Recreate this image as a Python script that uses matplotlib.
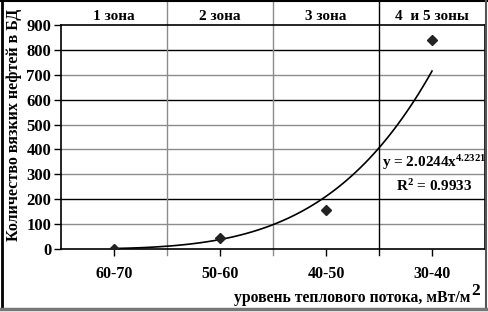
import numpy as np
import matplotlib
matplotlib.use("Agg")
import matplotlib.pyplot as plt
import matplotlib.transforms as mtrans
from matplotlib.lines import Line2D

plt.rcParams['font.family'] = ['Liberation Serif', 'DejaVu Serif']
plt.rcParams['font.weight'] = 'bold'
plt.rcParams['axes.labelweight'] = 'bold'
plt.rcParams['mathtext.fontset'] = 'custom'
plt.rcParams['mathtext.rm'] = 'Liberation Serif:bold'
plt.rcParams['mathtext.it'] = 'Liberation Serif:bold'
plt.rcParams['mathtext.bf'] = 'Liberation Serif:bold'

# data
categories = ['60-70', '50-60', '40-50', '30-40']
counts = [2, 45, 158, 838]
zones = ['1 зона', '2 зона', '3 зона', '4  и 5 зоны']
# power trendline as printed on the chart
trend_a = 2.0244
trend_b = 4.2321
r2 = 0.9933

fig = plt.figure(figsize=(4.88, 3.12), dpi=100)
ax = fig.add_axes([61 / 488, 63 / 312, 424 / 488, 224 / 312])

x = np.arange(1, len(categories) + 1)

# horizontal grid, some lines darker like in the source
for v in range(100, 900, 100):
    col = 'black' if v in (200, 600, 800) else '#8c8c8c'
    ax.axhline(v, color=col, lw=1.0, zorder=1)

# zone borders run from the top of the header row to below the axis
for b in x[:-1] + 0.5:
    ax.axvline(b, ymin=-0.025, ymax=1 + 25 / 224, color='#8c8c8c' if b < 3.5 else 'black',
               lw=1.0, clip_on=False, zorder=1)

xt = np.linspace(1, 4, 100)
ax.plot(xt, trend_a * xt ** trend_b, color='black', lw=1.2, zorder=3)
ax.plot(x, counts, 'D', color='#222222', ms=5, zorder=4)

ax.set_xlim(0.5, 4.5)
ax.set_ylim(0, 900)
ax.set_yticks(range(0, 1000, 100))
ax.set_xticks(x)
ax.set_xticklabels(categories)
ax.tick_params(axis='y', labelsize=12, length=5, width=1, pad=2)
ax.tick_params(axis='x', labelsize=11.5, length=5, width=1, pad=7)
for s in ax.spines.values():
    s.set_linewidth(1.2)

ax.set_ylabel('Количество вязких нефтей в БД', fontsize=11.5, va='center')
ax.yaxis.set_label_coords(-0.111, 0.554)

top_row = mtrans.blended_transform_factory(ax.transData, fig.transFigure)
for i, z in enumerate(zones):
    ax.text(x[i], 1 - 16 / 312, z, transform=top_row,
            ha='center', va='center', fontsize=11)

px_fig = mtrans.blended_transform_factory(mtrans.IdentityTransform(), fig.transFigure)
ax.text(434, 1 - 163 / 312, r'y = %.4fx$^{%.4f}$' % (trend_a, trend_b),
        transform=px_fig, ha='center', va='center', fontsize=11)
ax.text(434, 1 - 186 / 312, r'R$^2$ = %.4f' % r2,
        transform=px_fig, ha='center', va='center', fontsize=11)

fig.text(470 / 488, 1 - 298 / 312, 'уровень теплового потока, мВт/м',
         ha='right', va='center', fontsize=11.3)
fig.text(471 / 488, 1 - 291 / 312, '2', ha='left', va='center', fontsize=12.5)

# outer frame
fig.add_artist(Line2D([1.5 / 488, 1.5 / 488], [0.01, 1], color='black', lw=2))
fig.add_artist(Line2D([0, 1], [0.998, 0.998], color='black', lw=1.5))
fig.add_artist(Line2D([486 / 488, 486 / 488], [0.01, 1], color='#555555', lw=1.5))
fig.add_artist(Line2D([0, 1], [1 - 309 / 312, 1 - 309 / 312], color='#777777', lw=2.5))

fig.savefig('out.png', dpi=100)
